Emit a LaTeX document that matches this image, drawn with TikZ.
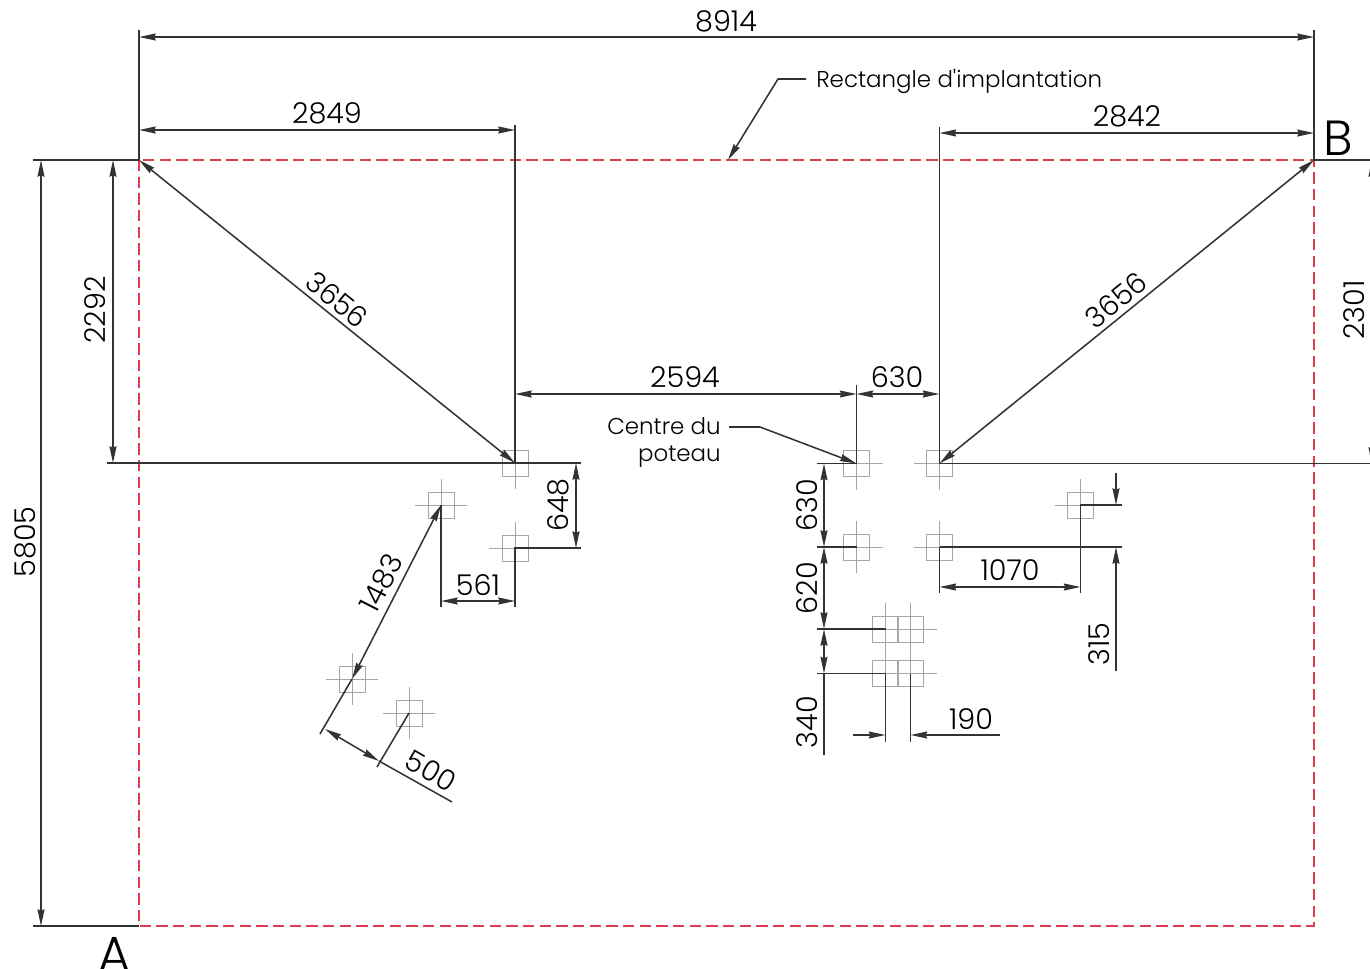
\documentclass[tikz,border=0pt]{standalone}
\usepackage{fontspec}
\setmainfont{Poppins}[UprightFont=*-Light]
\usetikzlibrary{arrows.meta,calc}
\definecolor{rouge}{RGB}{222,62,76}
\tikzset{
  cote/.style={inner sep=0.75pt,font=\fontsize{21.5}{23}\selectfont},
  repere/.style={inner sep=0pt,font=\fontsize{37}{37}\selectfont},
  petit/.style={inner sep=0.75pt,font=\fontsize{17.2}{19}\selectfont},
  ligne/.style={draw=black!80,line width=1.15pt},
  fleche/.style={ligne,{Stealth[length=12.5pt,width=5.2pt,inset=1pt]}-{Stealth[length=12.5pt,width=5.2pt,inset=1pt]}},
  fin/.style={ligne,-{Stealth[length=12.5pt,width=5.2pt,inset=1pt]}},
  poteau/.style={draw=black!35,line width=0.6pt},
  implantation/.style={draw=rouge,line width=1pt,dash pattern=on 8.5pt off 4pt}
}
\newcommand{\poteaux}[1]{%
  \draw [poteau] ($(#1)+(-13,-13)$) rectangle ($(#1)+(13,13)$);
  \draw [poteau] ($(#1)+(-26,0)$) -- ($(#1)+(26,0)$) ($(#1)+(0,-26)$) -- ($(#1)+(0,26)$);
}
\begin{document}
\begin{tikzpicture}[x=0.75pt,y=0.75pt,yscale=-1,xscale=1]
    \useasboundingbox (0,0) rectangle (1370,968);
    %corners of the rectangle
    \coordinate (A) at (139,926);
    \coordinate (B) at (1314,160);
    \coordinate (C) at (139,160);
    \coordinate (D) at (1314,926);
    %posts
    \coordinate (p1) at (515,463);
    \coordinate (p2) at (441,505);
    \coordinate (p3) at (515,548);
    \coordinate (p4) at (352,679);
    \coordinate (p5) at (409,713);
    \coordinate (p6) at (856.5,463.5);
    \coordinate (p7) at (939.5,463.5);
    \coordinate (p8) at (856.5,547);
    \coordinate (p9) at (939.5,547);
    \coordinate (p10) at (1080.5,505);
    \coordinate (p11) at (885.5,629);
    \coordinate (p12) at (910.5,629);
    \coordinate (p13) at (885.5,673.5);
    \coordinate (p14) at (910.5,673.5);
    \foreach \p in {p1,p2,p3,p4,p5,p6,p7,p8,p9,p10,p11,p12,p13,p14} {\poteaux{\p}}

    %Rectangle
    \draw [implantation] (C) rectangle (D);

    %Extension lines
    \draw [ligne] (139,30) -- (C) -- (33,160);
    \draw [ligne] (1314,30) -- (B) -- (1370,160);
    \draw [ligne] (A) -- (33,926);
    \draw [ligne] (515,125) -- (p1);
    \draw [ligne] (939.5,127) -- (p7);
    \draw [ligne] (856.5,385) -- (p6);
    \draw [ligne] (107,463) -- (581,463);
    \draw [ligne] (p7) -- (1370,463.5);
    \draw [ligne] (581,548) -- (p3) -- (515,607);
    \draw [ligne] (p2) -- (441,607);
    \draw [ligne] (817,463.5) -- (p6);
    \draw [ligne] (817,547) -- (p8);
    \draw [ligne] (817,629) -- (p11);
    \draw [ligne] (817,673.5) -- (p13) -- (885.5,742);
    \draw [ligne] (p14) -- (910.5,742);
    \draw [ligne] (p9) -- (939.5,593);
    \draw [ligne] (p9) -- (1122,547);
    \draw [ligne] (1122,505) -- (p10) -- (1080.5,593);
    \draw [ligne] (p5) -- (377,767);

    %Dimensions
    \draw [fleche] (139,37) -- (1314,37);
    \draw [fleche] (139,130) -- (515,130);
    \draw [fleche] (939.5,133) -- (1314,133);
    \draw [fleche] (41,160) -- (41,926);
    \draw [fleche] (113,160) -- (113,463);
    \draw [fleche] (1372,160) -- (1372,464);
    \draw [fleche] (C) -- (p1);
    \draw [fleche] (B) -- (p7);
    \draw [fleche] (515,394) -- (856.5,394);
    \draw [fleche] (856.5,394) -- (939.5,394);
    \draw [fleche] (576,463) -- (576,548);
    \draw [fleche] (441,601) -- (515,601);
    \draw [fleche] (p2) -- (p4);
    \draw [ligne] (p4) -- (320,734);
    \draw [fleche] (325,729) -- (379,761);
    \draw [ligne] (379,761) -- (452,802);
    \draw [fleche] (824,463.5) -- (824,547);
    \draw [fleche] (824,547) -- (824,629);
    \draw [fleche] (824,629) -- (824,673.5);
    \draw [ligne] (824,673.5) -- (824,755);
    \draw [fin] (853,735) -- (885.5,735);
    \draw [fin] (1000,735) -- (910.5,735);
    \draw [fleche] (939.5,587) -- (1080.5,587);
    \draw [fin] (1116,473) -- (1116,505);
    \draw [fin] (1116,671) -- (1116,547);

    %Leaders
    \draw [fin] (806,79) -- (778,79) -- (728,160);
    \draw [fin] (729,427) -- (760,427) -- (p6);

    % Text Node
    \node [cote] (t8914) at (726,21) {8914};
    \node [cote] (t2849) at (327,113) {2849};
    \node [cote] (t2842) at (1127,116) {2842};
    \node [cote] (t2594) at (685,377) {2594};
    \node [cote] (t630a) at (897,377) {630};
    \node [cote] (t1070) at (1010,570) {1070};
    \node [cote] (t561) at (478,585) {561};
    \node [cote] (t190) at (971,719) {190};
    \node [cote,rotate=90] (t5805) at (25,542) {5805};
    \node [cote,rotate=90] (t2292) at (95,310) {2292};
    \node [cote,rotate=90] (t2301) at (1354,310) {2301};
    \node [cote,rotate=90] (t648) at (558,505) {648};
    \node [cote,rotate=90] (t630b) at (807,505) {630};
    \node [cote,rotate=90] (t620) at (807,588) {620};
    \node [cote,rotate=90] (t340) at (807,722) {340};
    \node [cote,rotate=90] (t315) at (1099,644) {315};
    \node [cote,rotate=-39] (t3656a) at (337,300) {3656};
    \node [cote,rotate=39] (t3656b) at (1116,300) {3656};
    \node [cote,rotate=63] (t1483) at (381,583) {1483};
    \node [cote,rotate=-30] (t500) at (431,771) {500};
    \node [petit,anchor=west] (rect) at (815,81) {Rectangle d\textquotesingle implantation};
    \node [petit,anchor=east] (centre) at (722,426) {Centre du};
    \node [petit,anchor=east] (pot) at (722,457) {poteau};
    \node [repere] (nB) at (1338,138) {B};
    \node [repere] (nA) at (115,954) {A};
\end{tikzpicture}
\end{document}
